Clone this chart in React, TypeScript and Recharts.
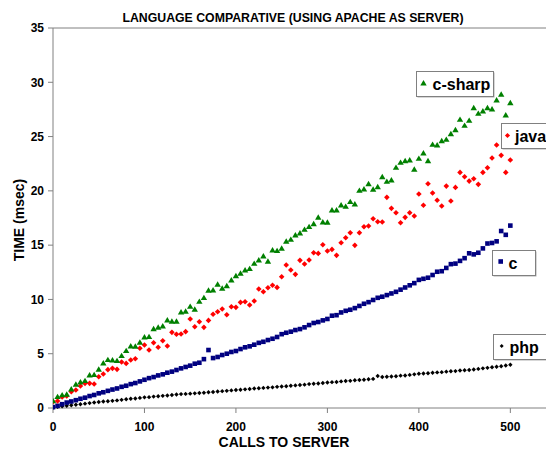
import { ScatterChart, Scatter, XAxis, YAxis, ReferenceLine } from "recharts";

const font = "'Liberation Sans', Arial, sans-serif";

// calls to server (x) — one point every 5 calls
const calls = [
  0, 5, 10, 15, 20, 25, 30, 35, 40, 45,
  50, 55, 60, 65, 70, 75, 80, 85, 90, 95,
  100, 105, 110, 115, 120, 125, 130, 135, 140, 145,
  150, 155, 160, 165, 170, 175, 180, 185, 190, 195,
  200, 205, 210, 215, 220, 225, 230, 235, 240, 245,
  250, 255, 260, 265, 270, 275, 280, 285, 290, 295,
  300, 305, 310, 315, 320, 325, 330, 335, 340, 345,
  350, 355, 360, 365, 370, 375, 380, 385, 390, 395,
  400, 405, 410, 415, 420, 425, 430, 435, 440, 445,
  450, 455, 460, 465, 470, 475, 480, 485, 490, 495,
  500,
];

// time in msec
const cSharp = [
  0.67, 1.04, 1.2, 1.26, 1.75, 2.18, 2.39, 2.52, 3.04, 3.07,
  3.56, 4.14, 4.45, 4.42, 4.36, 4.82, 5.28, 5.71, 5.68, 6.05,
  6.54, 6.57, 7.3, 7.43, 7.55, 8.1, 7.98, 7.98, 8.84, 8.9,
  9.36, 9.09, 9.82, 10.16, 10.84, 10.87, 11.39, 11.02, 11.26, 11.79,
  12.18, 12.4, 12.71, 12.83, 13.32, 13.63, 14.0, 13.51, 14.55, 14.49,
  14.71, 15.35, 15.53, 15.93, 16.11, 16.45, 16.7, 16.97, 17.56, 17.13,
  17.1, 18.23, 18.23, 18.69, 18.57, 19.0, 18.78, 20.04, 20.17, 20.65,
  20.14, 20.38, 21.3, 20.87, 20.99, 22.16, 22.62, 22.77, 22.84, 21.98,
  22.99, 23.48, 22.77, 24.28, 24.22, 24.61, 24.74, 25.26, 25.63, 26.58,
  26.03, 26.49, 27.65, 27.13, 27.35, 27.65, 27.53, 28.36, 28.89, 26.98,
  28.11,
];

const java = [
  0.58, 0.64, 1.01, 1.1, 1.5, 1.66, 2.03, 2.27, 2.27, 2.21,
  2.88, 3.13, 3.53, 3.65, 3.56, 4.24, 4.11, 4.42, 4.54, 5.5,
  5.8, 5.34, 6.01, 5.59, 6.2, 5.71, 6.97, 6.79, 6.81, 7.03,
  8.2, 7.49, 7.95, 7.43, 8.07, 8.63, 8.87, 9.12, 8.59, 9.33,
  9.27, 9.73, 9.79, 9.48, 9.85, 10.96, 10.71, 11.08, 11.3, 11.11,
  12.09, 13.17, 12.71, 12.31, 13.6, 13.26, 13.63, 14.3, 14.24, 15.04,
  14.46, 14.61, 14.06, 15.22, 15.68, 16.14, 14.98, 16.14, 16.7, 16.76,
  17.43, 17.16, 17.13, 19.4, 18.39, 17.99, 17.06, 17.56, 17.99, 17.68,
  19.71, 18.67, 20.65, 19.8, 19.13, 18.6, 20.44, 19.06, 20.32, 21.7,
  21.3, 20.9, 21.11, 20.6, 21.7, 22.13, 23.02, 24.22, 23.27, 21.7,
  22.84,
];

const cLang = [
  0.08, 0.2, 0.35, 0.5, 0.6, 0.72, 0.85, 0.95, 1.1, 1.2,
  1.35, 1.45, 1.58, 1.7, 1.8, 1.95, 2.05, 2.2, 2.3, 2.45,
  2.6, 2.75, 2.85, 3.0, 3.1, 3.25, 3.35, 3.5, 3.65, 3.78,
  3.9, 4.08, 4.17, 4.5, 5.34, 4.6, 4.7, 4.88, 5.0, 5.16,
  5.25, 5.43, 5.59, 5.68, 5.83, 6.0, 6.1, 6.26, 6.38, 6.54,
  6.8, 6.93, 7.03, 7.18, 7.27, 7.43, 7.64, 7.83, 7.92, 8.07,
  8.2, 8.5, 8.55, 8.8, 8.95, 9.05, 9.2, 9.4, 9.6, 9.75,
  9.95, 10.15, 10.25, 10.4, 10.55, 10.7, 10.9, 11.1, 11.3, 11.5,
  11.8, 11.9, 12.0, 12.25, 12.55, 12.6, 12.9, 13.25, 13.3, 13.55,
  13.8, 14.25, 14.15, 14.3, 14.7, 15.15, 15.2, 15.35, 16.3, 15.95,
  16.8,
];

const php = [
  0.05, 0.1, 0.15, 0.2, 0.25, 0.3, 0.35, 0.4, 0.45, 0.5,
  0.55, 0.6, 0.62, 0.66, 0.7, 0.75, 0.8, 0.85, 0.88, 0.93,
  0.98, 1.0, 1.05, 1.08, 1.12, 1.15, 1.2, 1.25, 1.28, 1.3,
  1.32, 1.35, 1.38, 1.4, 1.45, 1.48, 1.52, 1.55, 1.58, 1.62,
  1.66, 1.68, 1.72, 1.75, 1.8, 1.82, 1.85, 1.88, 1.9, 1.95,
  1.98, 2.0, 2.05, 2.08, 2.12, 2.15, 2.2, 2.23, 2.26, 2.3,
  2.35, 2.38, 2.4, 2.45, 2.48, 2.5, 2.55, 2.58, 2.6, 2.65,
  2.68, 2.95, 2.85, 2.88, 2.9, 2.93, 2.98, 3.0, 3.05, 3.1,
  3.15, 3.18, 3.2, 3.25, 3.28, 3.3, 3.35, 3.38, 3.4, 3.45,
  3.48, 3.5, 3.55, 3.6, 3.65, 3.7, 3.75, 3.8, 3.85, 3.92,
  3.98,
];

const xTicks = [0, 100, 200, 300, 400, 500];
const yTicks = [0, 5, 10, 15, 20, 25, 30, 35];

const toPoints = (vals: number[]) => calls.map((x, i) => ({ x, y: vals[i] }));

// marker shapes
const tri = (cx: number, cy: number, fill: string) => (
  <polygon points={`${cx},${cy - 3} ${cx + 3.2},${cy + 2.4} ${cx - 3.2},${cy + 2.4}`} fill={fill} />
);
const diamond = (cx: number, cy: number, r: number, fill: string) => (
  <polygon points={`${cx},${cy - r} ${cx + r},${cy} ${cx},${cy + r} ${cx - r},${cy}`} fill={fill} />
);
const square = (cx: number, cy: number, fill: string) => (
  <rect x={cx - 2.3} y={cy - 2.3} width={4.6} height={4.6} fill={fill} />
);

const GREEN = "#008000";
const RED = "#ff0000";
const BLUE = "#000080";
const BLACK = "#000000";
const AXIS = "#808080";

const tickStyle = { fontSize: 12, fontWeight: "bold", fill: "#000", fontFamily: font };

function LegendBox({ x, y, w, label, marker, textDx = 16 }: { x: number; y: number; w: number; label: string; marker: any; textDx?: number }) {
  return (
    <g>
      <rect x={x + 1} y={y + 1} width={w} height={25} fill="#b0b0b0" />
      <rect x={x} y={y} width={w} height={25} fill="#fff" stroke={AXIS} strokeWidth={1} />
      {marker}
      <text x={x + textDx} y={y + 18} fontSize={16} fontWeight="bold" fontFamily={font} fill="#000">
        {label}
      </text>
    </g>
  );
}

export default function App() {
  return (
    <div style={{ position: "absolute", left: 0, top: 0, width: 546, height: 457, background: "#fff", overflow: "hidden" }}>
      <ScatterChart width={546} height={457} margin={{ top: 28, right: 0, bottom: 19, left: 0 }}>
        <XAxis
          type="number"
          dataKey="x"
          domain={[0, 539]}
          ticks={xTicks}
          allowDataOverflow
          height={30}
          tick={tickStyle}
          tickSize={5}
          tickMargin={9}
          axisLine={{ stroke: AXIS }}
          tickLine={{ stroke: AXIS }}
        />
        <YAxis
          type="number"
          dataKey="y"
          domain={[0, 35]}
          ticks={yTicks}
          width={53}
          tick={tickStyle}
          tickSize={5}
          tickMargin={4}
          axisLine={{ stroke: AXIS }}
          tickLine={{ stroke: AXIS }}
        />
        <ReferenceLine y={35} stroke={AXIS} />
        <Scatter data={toPoints(php)} isAnimationActive={false} shape={(p: any) => diamond(p.cx, p.cy, 2.2, BLACK)} />
        <Scatter data={toPoints(cLang)} isAnimationActive={false} shape={(p: any) => square(p.cx, p.cy, BLUE)} />
        <Scatter data={toPoints(java)} isAnimationActive={false} shape={(p: any) => diamond(p.cx, p.cy, 2.8, RED)} />
        <Scatter data={toPoints(cSharp)} isAnimationActive={false} shape={(p: any) => tri(p.cx, p.cy, GREEN)} />
      </ScatterChart>

      <svg width={546} height={457} style={{ position: "absolute", left: 0, top: 0, pointerEvents: "none" }}>
        <text x={293} y={21.5} textAnchor="middle" fontSize={12.3} fontWeight="bold" fontFamily={font}>
          LANGUAGE COMPARATIVE (USING APACHE AS SERVER)
        </text>
        <text x={284} y={447} textAnchor="middle" fontSize={14} fontWeight="bold" fontFamily={font}>
          CALLS TO SERVER
        </text>
        <text
          x={0}
          y={0}
          transform="translate(23.5,220) rotate(-90)"
          textAnchor="middle"
          fontSize={14}
          fontWeight="bold"
          fontFamily={font}
        >
          TIME (msec)
        </text>
        <LegendBox x={416.5} y={71.5} w={77} label="c-sharp" marker={tri(423.5, 83, GREEN)} />
        <LegendBox x={501.5} y={123.5} w={60} label="java" textDx={13.5} marker={diamond(507.5, 135.5, 2.6, RED)} />
        <LegendBox x={492.5} y={250.5} w={43} label="c" marker={square(500.7, 261.5, BLUE)} />
        <LegendBox x={493.5} y={334.5} w={60} label="php" marker={diamond(501.7, 346, 2, BLACK)} />
      </svg>
    </div>
  );
}
